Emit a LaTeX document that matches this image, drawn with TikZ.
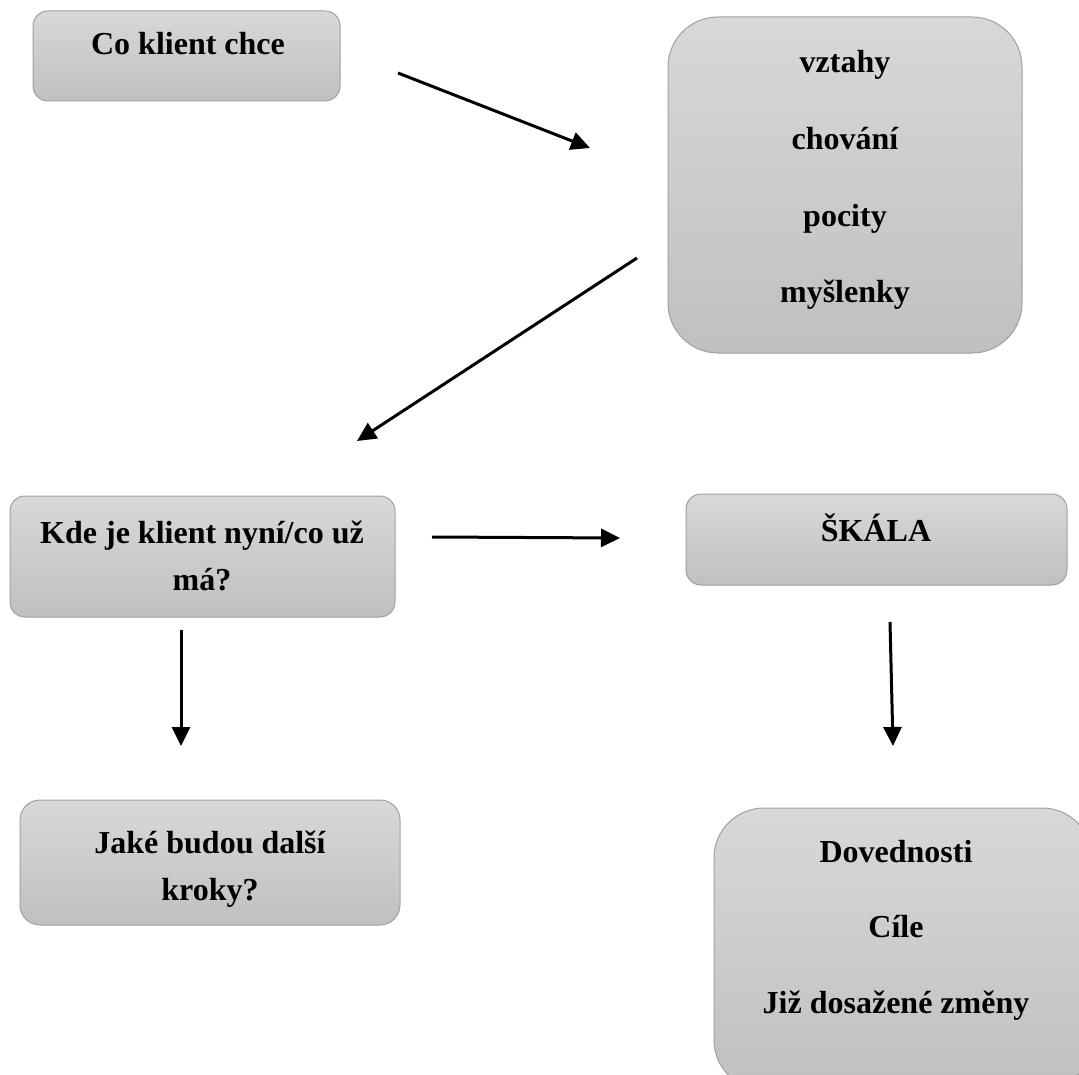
\documentclass[tikz,border=0pt]{standalone}
\usepackage{fontspec}
\setmainfont{Liberation Serif}
\usetikzlibrary{arrows.meta}
\definecolor{boxtop}{RGB}{216,216,216}
\definecolor{boxbot}{RGB}{192,192,192}
\definecolor{boxline}{RGB}{160,160,160}
\tikzset{
  gbox/.style={draw=boxline, line width=1pt, top color=boxtop, bottom color=boxbot, inner sep=0pt},
  lbl/.style={font=\fontsize{32}{38}\selectfont\bfseries, anchor=base, inner sep=0pt},
  arr/.style={line width=3pt, -{Triangle[length=19pt,width=18pt]}}
}
\begin{document}
\begin{tikzpicture}[x=1pt,y=-1pt]
\useasboundingbox (0,0) rectangle (1079,1075);
\clip (0,0) rectangle (1079,1075);
% boxes
\node[gbox, rounded corners=15pt, minimum width=307pt, minimum height=90pt] (b1) at (186.5,56) {};
\node[gbox, rounded corners=50pt, minimum width=354pt, minimum height=336pt] (b2) at (845,185) {};
\node[gbox, rounded corners=15pt, minimum width=385pt, minimum height=121pt] (b3) at (202.5,556.5) {};
\node[gbox, rounded corners=15pt, minimum width=381pt, minimum height=91pt] (b4) at (876.5,539.5) {};
\node[gbox, rounded corners=20pt, minimum width=380pt, minimum height=125pt] (b5) at (210,862.5) {};
\node[gbox, rounded corners=50pt, minimum width=378pt, minimum height=282pt] (b6) at (903,949) {};
% labels
\node[lbl] (t1) at (188,55) {Co klient chce};
\node[lbl] (t2a) at (845,73) {vztahy};
\node[lbl] (t2b) at (845,150) {chování};
\node[lbl] (t2c) at (845,227) {pocity};
\node[lbl] (t2d) at (845,303) {myšlenky};
\node[lbl] (t3a) at (202,543) {Kde je klient nyní/co už};
\node[lbl] (t3b) at (202,590) {má?};
\node[lbl] (t4) at (876,541) {ŠKÁLA};
\node[lbl] (t5a) at (210,853) {Jaké budou další};
\node[lbl] (t5b) at (210,900) {kroky?};
\node[lbl] (t6a) at (896,862) {Dovednosti};
\node[lbl] (t6b) at (896,937) {Cíle};
\node[lbl] (t6c) at (896,1013) {Již dosažené změny};
% arrow endpoints
\coordinate (a1s) at (398,73);  \coordinate (a1e) at (590,148);
\coordinate (a2s) at (637,258); \coordinate (a2e) at (357,441);
\coordinate (a3s) at (432,537); \coordinate (a3e) at (620,538);
\coordinate (a4s) at (181,630); \coordinate (a4e) at (181,746);
\coordinate (a5s) at (890,622); \coordinate (a5e) at (893,746);
\draw[arr] (a1s) -- (a1e);
\draw[arr] (a2s) -- (a2e);
\draw[arr] (a3s) -- (a3e);
\draw[arr] (a4s) -- (a4e);
\draw[arr] (a5s) -- (a5e);
\end{tikzpicture}
\end{document}
